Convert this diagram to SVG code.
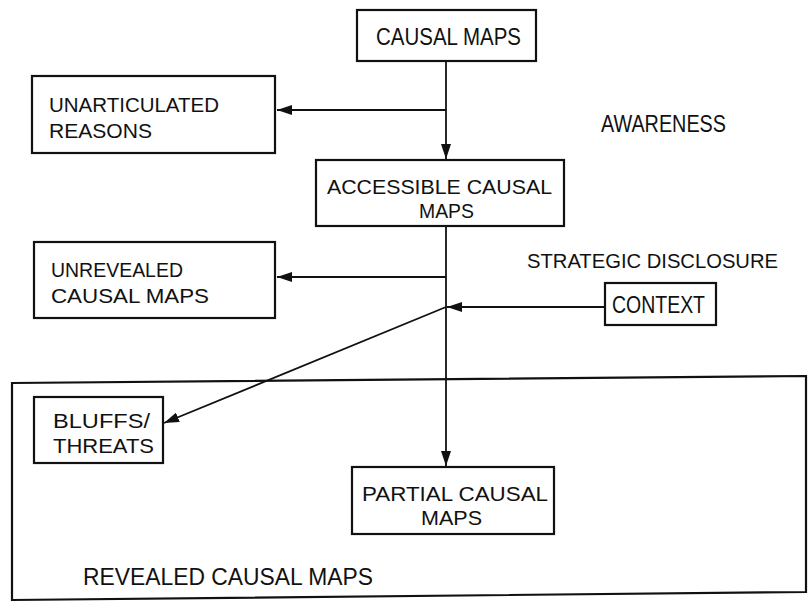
<svg xmlns="http://www.w3.org/2000/svg" width="810" height="608" viewBox="0 0 810 608">
  <style>
    .box { fill: none; stroke: #111; stroke-width: 2.2; }
    .line { fill: none; stroke: #111; stroke-width: 1.8; }
    text { font-family: "Liberation Sans", Arial, sans-serif; font-size: 21px; fill: #111; }
    .single { font-size: 23px; }
  </style>
  <defs>
    <marker id="arrow" viewBox="0 0 15 10" refX="15" refY="5" markerWidth="15" markerHeight="10" markerUnits="userSpaceOnUse" orient="auto">
      <path d="M0,0 L15,5 L0,10 Z" fill="#111"/>
    </marker>
  </defs>
  <rect width="810" height="608" fill="#fff"/>

  <!-- enclosing region -->
  <g id="revealed">
    <polygon class="box" points="12,383 806,376 806,592 12,600"/>
    <text class="single" x="83" y="585" textLength="290" lengthAdjust="spacingAndGlyphs">REVEALED CAUSAL MAPS</text>
  </g>

  <g id="causal-maps">
    <rect class="box" x="357" y="10" width="179" height="51"/>
    <text class="single" x="376" y="45" textLength="145" lengthAdjust="spacingAndGlyphs">CAUSAL MAPS</text>
  </g>

  <g id="unarticulated">
    <rect class="box" x="32" y="76" width="243" height="77"/>
    <text x="49" y="112" textLength="170" lengthAdjust="spacingAndGlyphs">UNARTICULATED</text>
    <text x="49" y="138" textLength="103" lengthAdjust="spacingAndGlyphs">REASONS</text>
  </g>

  <g id="awareness">
    <text class="single" x="601" y="132" textLength="125" lengthAdjust="spacingAndGlyphs">AWARENESS</text>
  </g>

  <g id="accessible">
    <rect class="box" x="316" y="160" width="248" height="66"/>
    <text x="327" y="194" textLength="225" lengthAdjust="spacingAndGlyphs">ACCESSIBLE CAUSAL</text>
    <text x="419" y="218" textLength="55" lengthAdjust="spacingAndGlyphs">MAPS</text>
  </g>

  <g id="unrevealed">
    <rect class="box" x="34" y="242" width="241" height="76"/>
    <text x="51" y="277" textLength="132" lengthAdjust="spacingAndGlyphs">UNREVEALED</text>
    <text x="51" y="303" textLength="158" lengthAdjust="spacingAndGlyphs">CAUSAL MAPS</text>
  </g>

  <g id="strategic">
    <text x="527" y="268" textLength="251" lengthAdjust="spacingAndGlyphs">STRATEGIC DISCLOSURE</text>
  </g>

  <g id="context">
    <rect class="box" x="605" y="283" width="111" height="42"/>
    <text class="single" x="612" y="313" textLength="93" lengthAdjust="spacingAndGlyphs">CONTEXT</text>
  </g>

  <g id="bluffs">
    <rect class="box" x="34" y="397" width="129" height="66"/>
    <text x="53" y="428" textLength="97" lengthAdjust="spacingAndGlyphs">BLUFFS/</text>
    <text x="53" y="453" textLength="101" lengthAdjust="spacingAndGlyphs">THREATS</text>
  </g>

  <g id="partial">
    <rect class="box" x="352" y="467" width="202" height="67"/>
    <text x="362" y="501" textLength="186" lengthAdjust="spacingAndGlyphs">PARTIAL CAUSAL</text>
    <text x="421" y="525" textLength="61" lengthAdjust="spacingAndGlyphs">MAPS</text>
  </g>

  <g id="connectors">
    <line class="line" x1="446" y1="61" x2="446" y2="159" marker-end="url(#arrow)"/>
    <line class="line" x1="446" y1="110" x2="277" y2="110" marker-end="url(#arrow)"/>
    <line class="line" x1="446" y1="226" x2="446" y2="466" marker-end="url(#arrow)"/>
    <line class="line" x1="446" y1="277" x2="277" y2="277" marker-end="url(#arrow)"/>
    <line class="line" x1="605" y1="307" x2="447" y2="307" marker-end="url(#arrow)"/>
    <line class="line" x1="446" y1="307" x2="164" y2="423" marker-end="url(#arrow)"/>
  </g>
</svg>
